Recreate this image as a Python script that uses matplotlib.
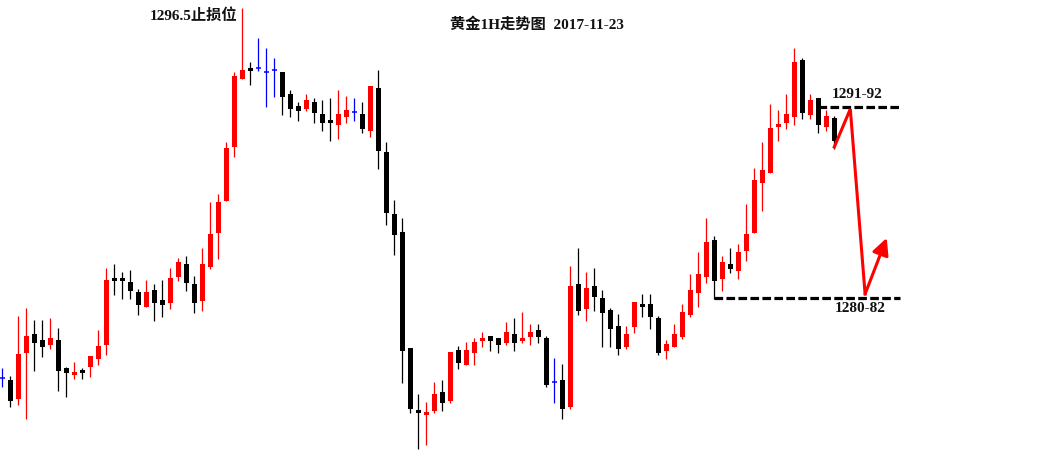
import numpy as np
import matplotlib.pyplot as plt

plt.rcParams['font.family'] = ['Liberation Serif', 'Noto Sans CJK SC']

# 黄金 1H K线 (开 高 低 收), 2017-11-23
opens = [1278.10, 1278.00, 1277.05, 1279.35, 1280.30, 1280.00, 1279.75, 1280.00, 1278.60, 1278.25,
         1278.50, 1278.65, 1279.05, 1279.75, 1283.10, 1283.10, 1282.90, 1282.40, 1281.65, 1282.50,
         1282.00, 1281.85, 1283.15, 1283.80, 1282.80, 1281.95, 1283.65, 1285.35, 1286.95, 1289.65,
         1293.05, 1293.60, 1293.60, 1293.40, 1293.50, 1293.40, 1292.30, 1291.70, 1291.55, 1291.90,
         1291.30, 1291.00, 1290.75, 1291.15, 1291.40, 1291.30, 1290.45, 1292.60, 1289.40, 1286.30,
         1285.40, 1279.60, 1276.50, 1276.25, 1276.45, 1277.40, 1276.95, 1279.50, 1278.75, 1279.35,
         1279.95, 1280.20, 1280.10, 1279.85, 1280.30, 1279.95, 1280.15, 1280.50, 1280.10, 1277.90,
         1278.00, 1276.65, 1282.80, 1281.55, 1282.70, 1282.10, 1281.50, 1280.70, 1279.65, 1280.65,
         1281.80, 1281.80, 1281.10, 1279.45, 1279.65, 1280.15, 1281.25, 1282.35, 1283.15, 1285.00,
         1283.05, 1283.80, 1283.45, 1284.45, 1285.35, 1287.85, 1288.35, 1290.65, 1290.85, 1291.15,
         1294.00, 1291.25, 1292.10, 1290.65, 1291.10]
highs = [1278.60, 1278.20, 1281.20, 1281.60, 1281.00, 1281.00, 1281.10, 1280.60, 1278.65, 1278.90,
         1278.60, 1279.20, 1280.50, 1283.60, 1283.80, 1283.40, 1283.50, 1282.55, 1283.00, 1282.80,
         1283.00, 1283.60, 1284.10, 1284.20, 1283.20, 1284.60, 1286.90, 1287.30, 1289.90, 1293.40,
         1296.60, 1293.90, 1295.10, 1294.60, 1294.10, 1293.40, 1292.50, 1291.90, 1292.30, 1292.10,
         1292.00, 1292.10, 1292.50, 1292.20, 1292.10, 1291.90, 1292.70, 1293.50, 1289.90, 1287.00,
         1286.10, 1279.60, 1277.30, 1276.90, 1277.90, 1278.00, 1279.40, 1279.70, 1279.90, 1280.10,
         1280.40, 1280.20, 1280.10, 1280.90, 1281.10, 1281.40, 1280.80, 1280.80, 1280.20, 1279.10,
         1278.80, 1283.70, 1284.60, 1283.40, 1283.60, 1282.50, 1281.60, 1281.30, 1280.70, 1281.90,
         1282.30, 1282.30, 1281.20, 1280.00, 1280.80, 1281.80, 1283.30, 1284.40, 1286.10, 1285.20,
         1284.20, 1284.60, 1284.80, 1286.80, 1288.60, 1289.90, 1291.80, 1291.50, 1292.30, 1294.60,
         1294.10, 1292.30, 1292.10, 1291.50, 1291.20]
lows = [1277.65, 1276.65, 1276.75, 1276.05, 1278.45, 1279.15, 1279.55, 1277.45, 1277.15, 1278.05,
        1278.05, 1278.15, 1278.75, 1279.25, 1282.25, 1282.05, 1282.05, 1281.25, 1281.65, 1280.95,
        1281.15, 1281.55, 1282.95, 1282.45, 1281.35, 1281.45, 1283.55, 1284.05, 1286.95, 1289.15,
        1293.05, 1292.75, 1293.45, 1291.65, 1292.15, 1291.25, 1291.15, 1290.95, 1291.45, 1290.85,
        1290.45, 1289.95, 1290.05, 1290.85, 1290.95, 1290.35, 1290.15, 1288.55, 1285.75, 1284.25,
        1277.85, 1276.35, 1274.55, 1274.75, 1276.35, 1276.45, 1276.85, 1278.55, 1278.75, 1278.75,
        1279.65, 1279.45, 1279.35, 1279.75, 1279.45, 1279.85, 1279.75, 1279.85, 1277.65, 1276.85,
        1276.05, 1276.55, 1281.25, 1280.95, 1281.45, 1279.65, 1279.65, 1279.25, 1279.55, 1280.35,
        1281.15, 1280.55, 1279.25, 1279.05, 1279.65, 1280.05, 1281.15, 1281.65, 1282.85, 1282.05,
        1282.45, 1283.35, 1283.05, 1283.95, 1285.35, 1286.45, 1288.35, 1289.95, 1290.55, 1290.75,
        1291.05, 1291.05, 1290.35, 1290.45, 1289.55]
closes = [1278.10, 1276.95, 1279.30, 1280.20, 1279.85, 1279.65, 1280.10, 1278.45, 1278.35, 1278.40,
          1278.35, 1279.20, 1279.70, 1283.00, 1282.95, 1282.95, 1282.45, 1281.75, 1282.40, 1281.85,
          1281.75, 1283.10, 1283.90, 1282.85, 1281.85, 1283.80, 1285.30, 1286.90, 1289.60, 1293.20,
          1293.50, 1293.45, 1293.60, 1293.40, 1293.50, 1292.15, 1291.55, 1291.45, 1292.00, 1291.35,
          1290.85, 1290.85, 1291.30, 1291.50, 1291.40, 1290.55, 1292.70, 1289.45, 1286.35, 1285.25,
          1279.45, 1276.55, 1276.35, 1276.40, 1277.30, 1276.85, 1279.40, 1278.85, 1279.50, 1279.90,
          1280.10, 1279.95, 1279.75, 1280.40, 1279.85, 1280.10, 1280.40, 1280.15, 1277.75, 1277.90,
          1276.55, 1282.70, 1281.45, 1282.60, 1282.15, 1281.35, 1280.55, 1279.55, 1280.30, 1281.90,
          1281.65, 1281.15, 1279.35, 1279.80, 1280.30, 1281.40, 1282.50, 1283.30, 1284.90, 1282.95,
          1283.90, 1283.55, 1284.40, 1285.30, 1288.00, 1288.50, 1290.60, 1290.80, 1291.30, 1293.90,
          1291.35, 1292.00, 1290.75, 1291.20, 1289.95]

stop_level = 1296.5
resist = 1291.65    # 1291-92
support = 1282.1    # 1280-82
resist_from, support_from, lines_to = 102, 89, 112.2

# 预期走势: 先冲高到1291-92, 回落1280-82, 再反弹
path_x = [104, 106, 107.85, 110.55]
path_y = [1289.65, 1291.55, 1282.3, 1285.1]

o = np.array(opens)
h = np.array(highs)
l = np.array(lows)
c = np.array(closes)
x = np.arange(len(o))
cols = np.where(c > o, '#ff0000', np.where(c < o, '#000000', '#0000ff'))

fig = plt.figure(figsize=(10.53, 4.57), dpi=100)
ax = fig.add_axes([0, 0, 1, 1])
ax.set_axis_off()

ax.vlines(x, l, h, colors=cols, linewidth=0.9)
body = c != o
ax.bar(x[body], np.abs(c - o)[body], bottom=np.minimum(o, c)[body],
       width=0.65, color=cols[body], linewidth=0)
ax.hlines(c[~body], x[~body] - 0.33, x[~body] + 0.33, colors=cols[~body], linewidth=1.1)

dash = (0, (2.7, 1.05))
ax.hlines(resist, resist_from, lines_to, color='k', linewidth=2.3, linestyles=[dash])
ax.hlines(support, support_from, lines_to, color='k', linewidth=2.3, linestyles=[dash])

ax.plot(path_x[:3], path_y[:3], color='#ff0000', linewidth=2.2, solid_joinstyle='miter')
ax.annotate('', xy=(path_x[3], path_y[3]), xytext=(path_x[2], path_y[2]),
            arrowprops=dict(arrowstyle='-|>,head_length=0.5,head_width=0.25',
                            color='#ff0000', lw=2.2, mutation_scale=20,
                            shrinkA=0, shrinkB=0))

font = dict(fontsize=11, fontweight='bold', color='#111111')
ax.text(18.45, 1296.25, '1296.5止损位', va='center', ha='left', **font)
ax.text(103.7, 1292.3, '1291-92', va='center', ha='left', **font)
ax.text(104.1, 1281.6, '1280-82', va='center', ha='left', **font)
fig.text(0.5095, 0.947, '黄金1H走势图  2017-11-23', ha='center', va='center', **font)

ax.set_xlim(-2.3 / 8, (1053 - 2.3) / 8)
ax.set_ylim(1297 - 457 / 20, 1297)

fig.savefig('out.png', dpi=100, facecolor='white')
